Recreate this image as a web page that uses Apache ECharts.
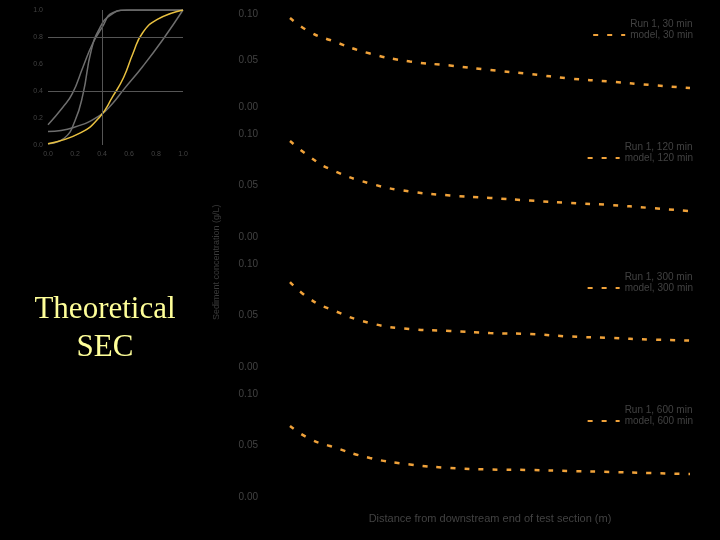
<!DOCTYPE html>
<html>
<head>
<meta charset="utf-8">
<script src="https://cdn.jsdelivr.net/npm/echarts@6/dist/echarts.min.js"></script>
<style>
  html, body { margin: 0; padding: 0; background: #000; }
  #chart { width: 720px; height: 540px; }
</style>
</head>
<body>
<div id="chart"></div>
<script>
// distance along test section (x), shared by all panels
var distance = [0, 1, 2, 4, 6, 8, 10, 12, 14, 16, 18, 20];

// model concentration curves, one per run time
var model30  = [0.0957, 0.0806, 0.0720, 0.0575, 0.0490, 0.0446, 0.0398, 0.0355, 0.0306, 0.0274, 0.0237, 0.0204];
var model120 = [0.0932, 0.0777, 0.0660, 0.0520, 0.0442, 0.0403, 0.0379, 0.0354, 0.0330, 0.0311, 0.0282, 0.0252];
var model300 = [0.0825, 0.0660, 0.0563, 0.0427, 0.0369, 0.0350, 0.0330, 0.0320, 0.0296, 0.0282, 0.0267, 0.0257];
var model600 = [0.0689, 0.0563, 0.0495, 0.0379, 0.0316, 0.0282, 0.0267, 0.0262, 0.0252, 0.0243, 0.0233, 0.0223];

var runNames   = ['Run 1, 30 min', 'Run 1, 120 min', 'Run 1, 300 min', 'Run 1, 600 min'];
var modelNames = ['model, 30 min', 'model, 120 min', 'model, 300 min', 'model, 600 min'];

// inset: theoretical SEC curves (x, y) pairs
var secYellow = [[0, 0.01], [0.24, 0.09], [0.385, 0.21], [0.48, 0.36], [0.56, 0.50], [0.63, 0.68], [0.70, 0.83], [0.81, 0.93], [1.0, 1.0]];
var secGrayA  = [[0, 0.01], [0.12, 0.05], [0.20, 0.18], [0.26, 0.38], [0.32, 0.70], [0.385, 0.87], [0.46, 0.96], [0.58, 1.0], [1.0, 1.0]];
var secGrayB  = [[0, 0.15], [0.11, 0.28], [0.18, 0.38], [0.26, 0.58], [0.33, 0.75], [0.40, 0.87], [0.48, 0.98], [0.60, 1.0], [1.0, 1.0]];
var secGrayC  = [[0, 0.10], [0.19, 0.13], [0.385, 0.22], [0.48, 0.31], [0.56, 0.41], [0.70, 0.58], [0.85, 0.78], [1.0, 1.0]];

var models = [model30, model120, model300, model600];
var panelTops = [14, 134, 264, 394];
var panelHeights = [93, 103, 103, 103];
var legendTops = [14, 137, 267, 400];

var textColor = '#424242';
var lineColor = '#f0a23a';

var chart = echarts.init(document.getElementById('chart'));

var grid = [], xAxis = [], yAxis = [], series = [], legend = [];

models.forEach(function (m, i) {
    grid.push({ left: 290, width: 400, top: panelTops[i], height: panelHeights[i] });
    xAxis.push({
        type: 'value', gridIndex: i, min: 0, max: 20,
        axisLine: { show: false }, axisTick: { show: false },
        axisLabel: { show: false }, splitLine: { show: false },
        name: i === 3 ? 'Distance from downstream end of test section (m)' : '',
        nameLocation: 'middle', nameGap: 16,
        nameTextStyle: { color: textColor, fontSize: 11, fontFamily: 'Arial' }
    });
    yAxis.push({
        type: 'value', gridIndex: i, min: 0, max: 0.1, interval: 0.05,
        axisLine: { show: false }, axisTick: { show: false },
        splitLine: { show: false },
        axisLabel: {
            color: textColor, fontSize: 10, fontFamily: 'Arial', margin: 32,
            formatter: function (v) { return v.toFixed(2); }
        }
    });
    series.push({
        name: runNames[i], type: 'scatter', xAxisIndex: i, yAxisIndex: i,
        data: [], itemStyle: { color: '#000' }
    });
    series.push({
        name: modelNames[i], type: 'line', xAxisIndex: i, yAxisIndex: i,
        smooth: true, symbol: 'none', legendIcon: 'rect',
        lineStyle: { color: lineColor, width: 2.5, type: [5, 9] },
        itemStyle: { color: lineColor },
        data: distance.map(function (d, k) { return [d, m[k]]; })
    });
    legend.push({
        data: [
            { name: runNames[i], icon: 'none' },
            { name: modelNames[i], itemStyle: { opacity: 0 } }
        ],
        orient: 'vertical', right: 22, top: legendTops[i],
        itemWidth: 32, itemHeight: 9, itemGap: 1,
        textStyle: { color: textColor, fontSize: 10, fontFamily: 'Arial' }
    });
});

// inset chart
var inset = 4;
grid.push({ left: 48, top: 10, width: 135, height: 135 });
xAxis.push({
    type: 'value', gridIndex: inset, min: 0, max: 1, interval: 0.2,
    axisLine: { show: false }, axisTick: { show: false }, splitLine: { show: false },
    axisLabel: { color: textColor, fontSize: 7, margin: 6, formatter: function (v) { return v.toFixed(1); } }
});
yAxis.push({
    type: 'value', gridIndex: inset, min: 0, max: 1, interval: 0.2,
    axisLine: { show: false }, axisTick: { show: false }, splitLine: { show: false },
    axisLabel: { color: textColor, fontSize: 7, margin: 5, formatter: function (v) { return v.toFixed(1); } }
});

function insetLine(data, color, extra) {
    var s = {
        type: 'line', xAxisIndex: inset, yAxisIndex: inset, smooth: true,
        symbol: 'none', data: data, lineStyle: { color: color, width: 1.5 }, z: 3
    };
    return Object.assign(s, extra || {});
}

series.push(insetLine(secGrayA, '#6e6e6e', {
    markLine: {
        silent: true, symbol: 'none', label: { show: false },
        lineStyle: { color: '#555', width: 1, type: 'solid' },
        data: [{ yAxis: 0.4 }, { yAxis: 0.8 }, { xAxis: 0.4 }]
    }
}));
series.push(insetLine(secGrayB, '#6e6e6e'));
series.push(insetLine(secGrayC, '#6e6e6e'));
series.push(insetLine(secYellow, '#e8c040', { z: 4 }));

var option = {
    backgroundColor: '#000',
    animation: false,
    grid: grid,
    xAxis: xAxis,
    yAxis: yAxis,
    legend: legend,
    series: series,
    graphic: [
        {
            type: 'text', x: 105, y: 291,
            style: {
                text: 'Theoretical\nSEC', fill: '#ffff99', font: '31px "Liberation Serif"',
                align: 'center', lineHeight: 38
            }
        },
        {
            type: 'text', x: 212, y: 320, rotation: Math.PI / 2,
            style: {
                text: 'Sediment concentration (g/L)', fill: '#3a3a3a',
                font: '9px Arial'
            }
        }
    ]
};

chart.setOption(option);
</script>
</body>
</html>
